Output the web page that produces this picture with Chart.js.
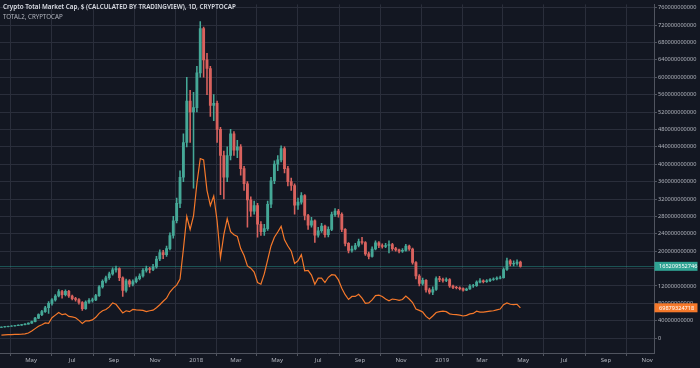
<!DOCTYPE html>
<html><head><meta charset="utf-8">
<script src="https://cdn.jsdelivr.net/npm/chart.js@4.4.1/dist/chart.umd.min.js"></script>
<style>
html,body{margin:0;padding:0;background:#131722;}
#wrap{position:relative;width:700px;height:368px;overflow:hidden;background:#131722;}
canvas{display:block;}
.t1{position:absolute;left:3px;top:2px;font-family:'Noto Sans',sans-serif;font-size:6.3px;font-weight:600;color:#d9dce3;white-space:nowrap;line-height:10px;}
.t2{position:absolute;left:3px;top:11.5px;font-family:'Noto Sans',sans-serif;font-size:6.2px;color:#b2b5be;white-space:nowrap;line-height:10px;}
</style></head>
<body><div id="wrap"><canvas id="c" width="700" height="368"></canvas>
<div class="t1">Crypto Total Market Cap, $ (CALCULATED BY TRADINGVIEW), 1D, CRYPTOCAP</div>
<div class="t2">TOTAL2, CRYPTOCAP</div></div>
<script>
// ---- data (values in billions USD) ----
const startDate = '2017-03-18';   // first candle
const stepDays = 5;               // one candle per 5 days
const firstOpen = 25.0;
const totalClose = [25.7,26.5,27.5,28,29,30,31,32.5,34.5,38,
46,54,61,70,80,88,97,107,100,108,
97,91,89,82,68,83,87,88,98,118,
131,139,148,157,160,139,110,132,124,130,
137,143,156,160,158,164,182,197,192,206,
236,270,310,370,450,545,520,530,610,712,
640,620,535,540,480,420,370,420,470,432,
440,390,355,318,292,305,262,245,252,308,
362,400,410,436,390,360,351,306,313,328,
282,260,270,237,247,258,238,250,284,292,
285,250,218,202,205,213,222,220,194,188,
205,219,213,211,213,215,206,203,200,202,
212,205,174,143,126,133,111,106,112,137,
135,133,135,120,117,116,114,110.5,113,120,
121,129,132,130,132,135,136,138,139,158,
178,171,172,175,165.209552746];
const totalHigh = [26.2,27,28,28.8,29.6,30.8,32,33.5,35.5,39.5,
48,56,64,73,84,91,100,112,110,111,
110,99,94,91,84,86,91,92,101,121,
134,143,152,162,166,162,141,136,135,134,
141,148,160,166,163,170,188,203,202,212,
242,280,322,385,470,600,570,565,625,728,
715,655,625,560,545,485,430,440,480,475,
455,445,395,360,325,315,310,268,262,315,
370,408,420,442,440,395,368,355,322,335,
330,285,278,272,255,264,260,256,290,298,
296,288,252,220,212,218,228,232,222,198,
210,224,222,217,218,224,218,209,205,206,
216,214,207,176,146,138,135,115,118,141,
142,138,139,137,122,119,118,116,115,123,
124,132,137,134,135,137,139,141,143,162,
184,181,178,180,177];
const totalLow = [24.8,25.3,26,27,27.6,28.5,29.5,30.5,32,34,
37.5,45,52,59,57,76,85,95,92,97,
94,88,85,78,64,66,80,83,86,96,
115,127,135,145,152,132,96,106,118,120,
127,134,140,152,150,155,161,178,183,188,
203,230,265,300,360,440,450,345,520,600,
600,560,510,500,450,330,320,360,410,420,
415,375,340,255,280,285,232,236,236,248,
300,355,385,405,380,350,340,285,296,308,
272,250,255,220,232,243,232,233,247,280,
278,245,212,196,198,203,210,216,190,182,
186,203,208,207,208,196,202,200,196,197,
200,202,170,136,120,122,106,102,100,110,
130,129,130,117,114,113,111,108,109,112,
117,119,127,127,128,130,133,134,136,138,
156,166,166,168,163];
const total2Close = [6.9,7.5,8,8.4,8.6,8.9,9.2,10,12,16.5,
22,27.5,31,35,34,47,53,59,54,56,
50,49,47,41,34,40,40,42,48,57,
63,66,72,81,78,68,58,63,61,66,
65,64.5,64,61,63,64.5,70,77,85,92,
106,115,122,136,205,280,250,281,355,413,
410,340,305,327,270,185,238,275,245,238,
234,206,190,166,161,152,128,124,148,180,
212,232,244,257,226,212,200,172,178,192,
155,156,145,124,138,138,128,140,146,145,
134,115,100,89,96,96,101,92,80,81,
88,98,99,96,90,86,90,89,87,89,
97,90,82,67,64,60,50,44,51,59,
61,62,61,56,54.5,54,53,51,52.5,56,
57,62,60,60,61,62,63,65,67,77,
81,78,77,78,69.879324718];
const xTickDates = ['2017-05-01','2017-07-01','2017-09-01','2017-11-01','2018-01-01','2018-03-01','2018-05-01','2018-07-01','2018-09-01','2018-11-01','2019-01-01','2019-03-01','2019-05-01','2019-07-01','2019-09-01','2019-11-01'];
const xTickLabels = ['May','Jul','Sep','Nov','2018','Mar','May','Jul','Sep','Nov','2019','Mar','May','Jul','Sep','Nov'];
const yTickValues = [0,40,80,120,160,200,240,280,320,360,400,440,480,520,560,600,640,680,720,760];

// ---- build ----
const BASE = Date.UTC(2017,0,1);
function dayNum(s){const p=s.split('-').map(Number);return (Date.UTC(p[0],p[1]-1,p[2])-BASE)/864e5;}
const d0 = dayNum(startDate);
const UP='#45a897', DOWN='#d9625e', ORANGE='#f5782a', TEAL='#2fa393';
const GRID='#2a2e3b', AXIS='#50545f', TXT='#b2b5be';
const wickPts=[], bodyPts=[], colors=[], linePts=[];
totalClose.forEach((c,i)=>{
  const o = i===0 ? firstOpen : totalClose[i-1];
  const x = d0 + i*stepDays;
  wickPts.push({x, y:[totalLow[i], totalHigh[i]]});
  bodyPts.push({x, y:[Math.min(o,c), Math.max(o,c)]});
  colors.push(c>=o ? UP : DOWN);
  linePts.push({x, y: total2Close[i]});
});
const xTicks = xTickDates.map(dayNum);
const lastMain = totalClose[totalClose.length-1];
const lastAlt = total2Close[total2Close.length-1];

const priceLines = {
  id:'priceLines',
  beforeDatasetsDraw(chart){
    const {ctx, chartArea:a, scales:{y}} = chart;
    const yy = Math.round(y.getPixelForValue(lastMain))+0.5;
    ctx.save(); ctx.strokeStyle='rgba(38,166,154,0.42)'; ctx.lineWidth=1;
    ctx.beginPath(); ctx.moveTo(a.left,yy); ctx.lineTo(a.right,yy); ctx.stroke(); ctx.restore();
  },
  afterDraw(chart){
    const {ctx, chartArea:a, scales:{y}} = chart;
    ctx.save();
    [[lastMain,TEAL],[lastAlt,ORANGE]].forEach(([v,col])=>{
      const yy = y.getPixelForValue(v);
      ctx.fillStyle=col; ctx.fillRect(a.right+0.5, yy-4.5, 43, 9);
      ctx.fillStyle='#ffffff'; ctx.font="5.6px 'Noto Sans', sans-serif";
      ctx.textBaseline='middle'; ctx.textAlign='left';
      ctx.fillText(String(Math.round(v*1e9)), a.right+5, yy+0.3);
    });
    ctx.restore();
  }
};

Chart.defaults.font.family="'Noto Sans', sans-serif";
new Chart(document.getElementById('c'), {
  type:'bar',
  data:{datasets:[
    {type:'line', data:linePts, borderColor:ORANGE, borderWidth:1.2, pointRadius:0, tension:0, order:0},
    {type:'bar', data:bodyPts, backgroundColor:colors, barThickness:2.2, grouped:false, order:1},
    {type:'bar', data:wickPts, backgroundColor:colors, barThickness:0.9, grouped:false, order:2}
  ]},
  options:{
    responsive:false, animation:false, events:[],
    layout:{padding:0},
    plugins:{legend:{display:false}, tooltip:{enabled:false}, title:{display:false}},
    scales:{
      x:{type:'linear', min:73.9, max:1044.2, offset:false,
        afterBuildTicks:s=>{s.ticks=xTicks.map(v=>({value:v}));},
        afterFit:s=>{s.height=15;},
        ticks:{autoSkip:false, maxRotation:0, padding:1, color:TXT, font:{size:6}, callback:(v,i)=>xTickLabels[i]},
        grid:{color:GRID, tickLength:3, tickColor:AXIS},
        border:{color:AXIS, width:1}
      },
      y:{position:'right', min:-34.06, max:767.5,
        afterBuildTicks:s=>{s.ticks=yTickValues.map(v=>({value:v}));},
        afterFit:s=>{s.width=46;},
        ticks:{padding:1, color:TXT, font:{size:5.6}, callback:v=>String(Math.round(v*1e9))},
        grid:{color:GRID, tickLength:3, tickColor:AXIS},
        border:{color:AXIS, width:1}
      }
    }
  },
  plugins:[priceLines]
});
</script></body></html>
